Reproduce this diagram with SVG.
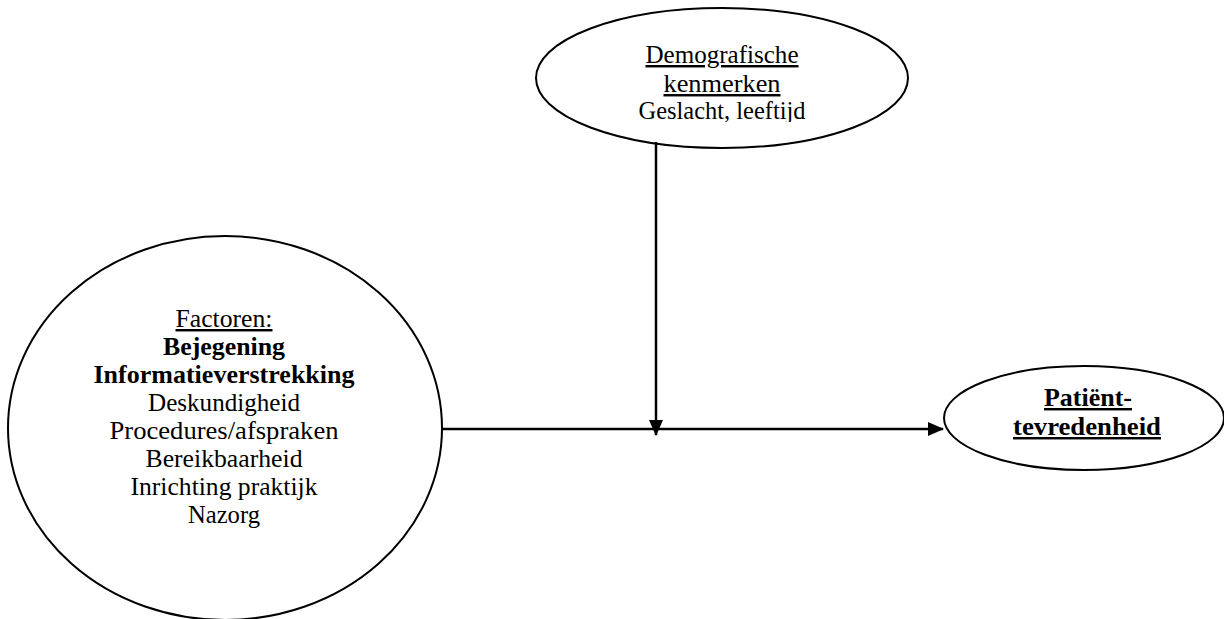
<svg xmlns="http://www.w3.org/2000/svg" width="1224" height="619" viewBox="0 0 1224 619">
<style>
.node{fill:#fff;stroke:#000;stroke-width:2}
.t{font-family:"Liberation Serif","Times New Roman",serif;font-size:24.5px;fill:#000;text-anchor:middle}
.b{font-weight:bold}
.u{text-decoration:underline}
.edge{stroke:#000;stroke-width:2.5;fill:none}
</style>
<defs>
<marker id="ah" markerWidth="16" markerHeight="14" refX="15" refY="7" orient="auto" markerUnits="userSpaceOnUse">
<path d="M0,0 L16,7 L0,14 Z" fill="#000"/>
</marker>
<clipPath id="topclip"><rect x="0" y="0" width="1224" height="122"/></clipPath>
</defs>
<rect width="1224" height="619" fill="#fff"/>
<g id="demografische">
<ellipse class="node" cx="722" cy="78" rx="186" ry="70"/>
<text class="t u" x="722" y="63" textLength="153" lengthAdjust="spacingAndGlyphs">Demografische</text>
<text class="t u" x="722" y="92" textLength="117" lengthAdjust="spacingAndGlyphs">kenmerken</text>
<text class="t" x="722" y="119" textLength="167" lengthAdjust="spacingAndGlyphs" clip-path="url(#topclip)">Geslacht, leeftijd</text>
</g>
<g id="factoren">
<ellipse class="node" cx="225" cy="428" rx="217" ry="192"/>
<text class="t u" x="224" y="327" textLength="97" lengthAdjust="spacingAndGlyphs">Factoren:</text>
<text class="t b" x="224" y="355" textLength="122" lengthAdjust="spacingAndGlyphs">Bejegening</text>
<text class="t b" x="224" y="383" textLength="261" lengthAdjust="spacingAndGlyphs">Informatieverstrekking</text>
<text class="t" x="224" y="411" textLength="152" lengthAdjust="spacingAndGlyphs">Deskundigheid</text>
<text class="t" x="224" y="439" textLength="229" lengthAdjust="spacingAndGlyphs">Procedures/afspraken</text>
<text class="t" x="224" y="467" textLength="157" lengthAdjust="spacingAndGlyphs">Bereikbaarheid</text>
<text class="t" x="224" y="495" textLength="187" lengthAdjust="spacingAndGlyphs">Inrichting praktijk</text>
<text class="t" x="224" y="523" textLength="72" lengthAdjust="spacingAndGlyphs">Nazorg</text>
</g>
<g id="patienttevredenheid">
<ellipse class="node" cx="1084" cy="418" rx="140" ry="52"/>
<text class="t b u" x="1088" y="406" textLength="88" lengthAdjust="spacingAndGlyphs">Patiënt-</text>
<text class="t b u" x="1087" y="435" textLength="148" lengthAdjust="spacingAndGlyphs">tevredenheid</text>
</g>
<g id="connectors">
<line class="edge" x1="442" y1="429" x2="943" y2="429" marker-end="url(#ah)"/>
<line class="edge" x1="656" y1="142" x2="656" y2="435" marker-end="url(#ah)"/>
</g>
</svg>
